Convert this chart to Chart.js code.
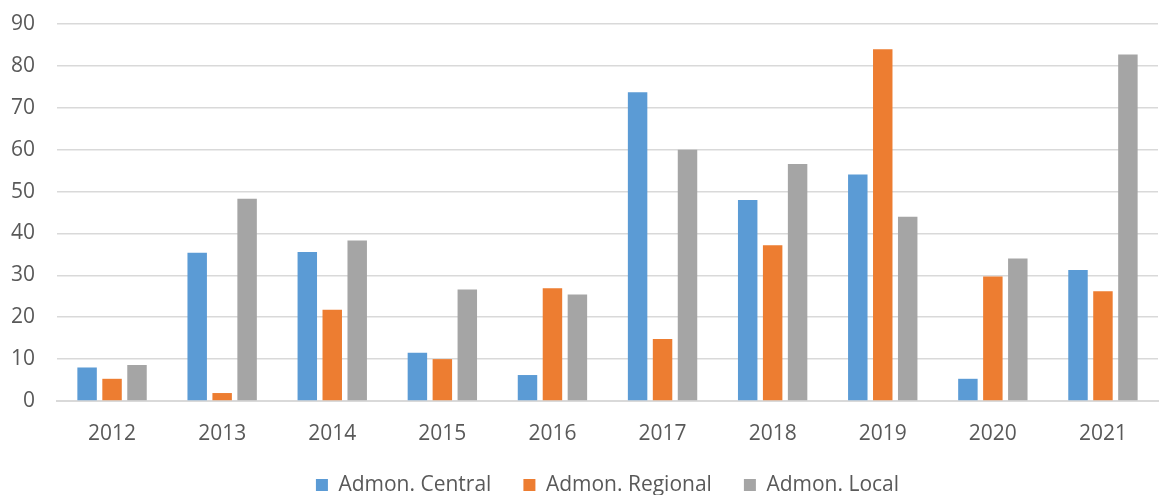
<!DOCTYPE html>
<html>
<head>
<meta charset="utf-8">
<script src="https://cdn.jsdelivr.net/npm/chart.js@4"></script>
<style>
  html, body { margin: 0; padding: 0; background: #fff; overflow: hidden; }
  #wrap { width: 1159px; height: 495px; }
</style>
</head>
<body>
<div id="wrap"><canvas id="myChart" width="1159" height="495"></canvas></div>
<script>
  const years = ['2012', '2013', '2014', '2015', '2016', '2017', '2018', '2019', '2020', '2021'];

  const central = [8.0, 35.4, 35.6, 11.5, 6.2, 73.7, 48.0, 54.1, 5.3, 31.3];
  const regional = [5.3, 1.9, 21.8, 10.0, 26.9, 14.8, 37.2, 84.0, 29.7, 26.2];
  const local = [8.6, 48.3, 38.3, 26.6, 25.4, 60.0, 56.6, 44.0, 34.0, 82.7];

  const yMax = 90;
  const yStep = 10;

  const data = {
    labels: years,
    datasets: [
      { label: 'Admon. Central', backgroundColor: '#5B9BD5', data: central },
      { label: 'Admon. Regional', backgroundColor: '#ED7D31', data: regional },
      { label: 'Admon. Local', backgroundColor: '#A5A5A5', data: local }
    ]
  };

  const config = {
    type: 'bar',
    data: data,
    options: {
      responsive: false,
      animation: false,
      datasets: {
        bar: { categoryPercentage: 0.68, barPercentage: 0.78 }
      },
      layout: { padding: { top: 24, right: 1, left: 10, bottom: -10.5 } },
      plugins: {
        legend: {
          position: 'bottom',
          fullSize: false,
          labels: {
            boxWidth: 12,
            boxHeight: 12,
            padding: 32,
            color: '#595959',
            font: { size: 21 }
          }
        },
        tooltip: { enabled: false }
      },
      scales: {
        x: {
          afterFit: (scale) => { scale.height = 41.5; },
          grid: { display: false, drawTicks: false },
          border: { color: '#D9D9D9', width: 2 },
          ticks: { color: '#595959', font: { size: 21 }, padding: 20 }
        },
        y: {
          min: 0,
          max: yMax,
          afterFit: (scale) => {
            scale.width = 47;
            scale.paddingTop = 0;
            scale.paddingBottom = 0;
          },
          grid: { color: '#D9D9D9', lineWidth: 1.5, drawTicks: false },
          border: { display: false },
          ticks: { stepSize: yStep, color: '#595959', font: { size: 21 }, padding: 22 }
        }
      }
    }
  };

  Chart.defaults.font.family = 'Open Sans';
  const myChart = new Chart(
    document.getElementById('myChart'),
    config
  );
</script>
</body>
</html>
